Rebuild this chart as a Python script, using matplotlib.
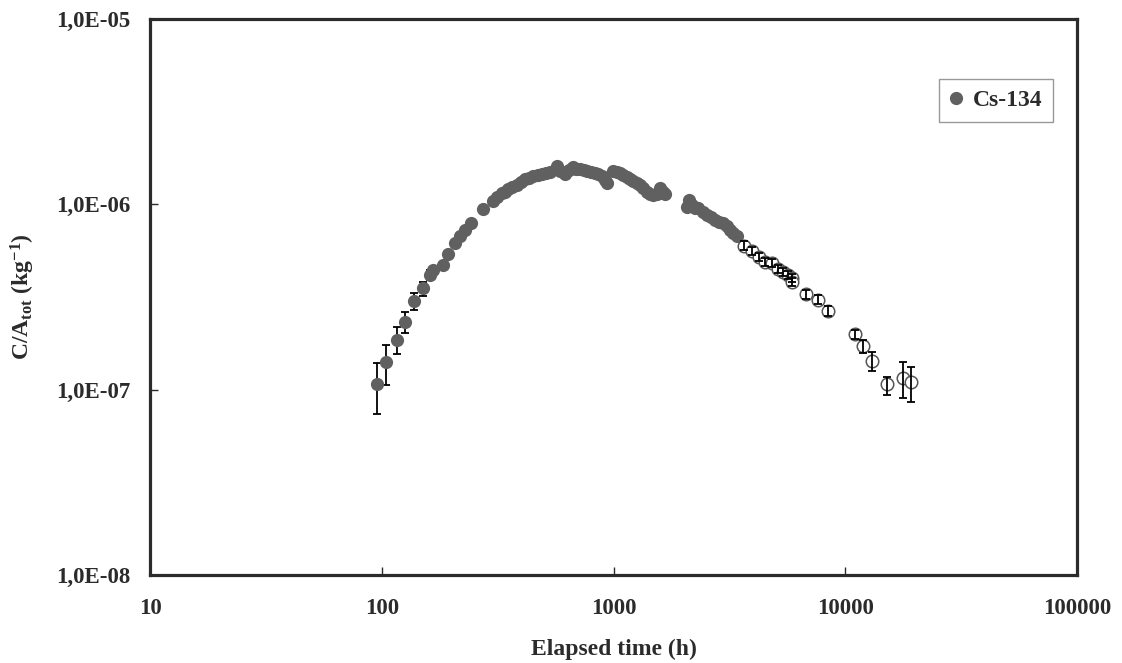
import numpy as np
import matplotlib
matplotlib.use("Agg")
import matplotlib.pyplot as plt
from matplotlib.ticker import FixedLocator, FuncFormatter, NullLocator

plt.rcParams['font.family'] = ['Liberation Serif', 'DejaVu Serif']
plt.rcParams['font.weight'] = 'bold'
plt.rcParams['mathtext.fontset'] = 'custom'
plt.rcParams['mathtext.rm'] = 'Liberation Serif:bold'
plt.rcParams['mathtext.bf'] = 'Liberation Serif:bold'
plt.rcParams['mathtext.it'] = 'Liberation Serif:bold'

# filled points (measured), first ones with error bars
t_fill = [95.7, 104, 116, 126, 138, 150, 162, 167, 183, 194, 206, 218, 229, 243, 274, 301,
          315, 330, 340, 352, 366, 382, 398, 415, 432, 451, 470, 490, 510, 532, 568, 590,
          617, 640, 666, 690, 716, 743, 770, 800, 832, 860, 888, 915, 939, 997, 1030, 1065,
          1100, 1138, 1175, 1216, 1258, 1300, 1345, 1390, 1440, 1486, 1540, 1588, 1630, 1668,
          2065, 2109, 2180, 2250, 2321, 2420, 2525, 2630, 2742, 2860, 2980, 3080, 3185, 3290, 3400]
c_fill = [1.07e-7, 1.40e-7, 1.86e-7, 2.32e-7, 2.99e-7, 3.53e-7, 4.15e-7, 4.40e-7, 4.70e-7, 5.37e-7,
          6.21e-7, 6.75e-7, 7.26e-7, 7.96e-7, 9.40e-7, 1.045e-6,
          1.09e-6, 1.146e-6, 1.17e-6, 1.205e-6, 1.24e-6, 1.27e-6, 1.32e-6, 1.364e-6, 1.39e-6, 1.42e-6,
          1.44e-6, 1.46e-6, 1.48e-6, 1.50e-6, 1.60e-6, 1.52e-6, 1.46e-6, 1.53e-6, 1.58e-6, 1.56e-6,
          1.55e-6, 1.53e-6, 1.52e-6, 1.50e-6, 1.48e-6, 1.45e-6, 1.42e-6, 1.36e-6, 1.30e-6, 1.52e-6,
          1.50e-6, 1.48e-6, 1.44e-6, 1.41e-6, 1.37e-6, 1.34e-6, 1.30e-6, 1.27e-6, 1.22e-6, 1.17e-6,
          1.13e-6, 1.12e-6, 1.13e-6, 1.22e-6, 1.16e-6, 1.14e-6,
          9.7e-7, 1.054e-6, 9.9e-7, 9.6e-7, 9.5e-7, 9.1e-7, 8.75e-7, 8.5e-7, 8.22e-7, 8.05e-7,
          7.89e-7, 7.6e-7, 7.26e-7, 7.0e-7, 6.74e-7]
t_fill_err = [95.7, 104, 116, 126, 138, 150, 162]
c_fill_err = [1.07e-7, 1.40e-7, 1.86e-7, 2.32e-7, 2.99e-7, 3.53e-7, 4.15e-7]
lo_fill_err = [7.4e-8, 1.06e-7, 1.56e-7, 2.03e-7, 2.70e-7, 3.20e-7, 3.90e-7]
hi_fill_err = [1.39e-7, 1.75e-7, 2.17e-7, 2.62e-7, 3.31e-7, 3.82e-7, 4.40e-7]

# open points with error bars
t_open = [3670, 3950, 4240, 4500, 4810, 5100, 5400, 5670, 5870, 5900, 6760, 7590, 8440,
          11000, 11970, 13000, 15100, 17700, 19200]
c_open = [5.98e-7, 5.62e-7, 5.22e-7, 4.90e-7, 4.80e-7, 4.48e-7, 4.33e-7, 4.15e-7, 3.99e-7, 3.82e-7,
          3.26e-7, 3.05e-7, 2.66e-7, 1.99e-7, 1.72e-7, 1.43e-7, 1.07e-7, 1.15e-7, 1.10e-7]
lo_open = [5.7e-7, 5.35e-7, 4.97e-7, 4.67e-7, 4.57e-7, 4.27e-7, 4.12e-7, 3.95e-7, 3.8e-7, 3.64e-7,
           3.08e-7, 2.88e-7, 2.5e-7, 1.88e-7, 1.57e-7, 1.26e-7, 9.35e-8, 8.97e-8, 8.6e-8]
hi_open = [6.3e-7, 5.9e-7, 5.48e-7, 5.14e-7, 5.04e-7, 4.7e-7, 4.55e-7, 4.36e-7, 4.19e-7, 4.0e-7,
           3.44e-7, 3.22e-7, 2.82e-7, 2.1e-7, 1.85e-7, 1.59e-7, 1.175e-7, 1.40e-7, 1.33e-7]

x_ticks = [10, 100, 1000, 10000, 100000]
y_ticks = [1e-8, 1e-7, 1e-6, 1e-5]
y_labels = ["1,0E-08", "1,0E-07", "1,0E-06", "1,0E-05"]

gray = "#606060"
dark = "#2b2b2b"

fig = plt.figure(figsize=(11.22, 6.63), dpi=100)
ax = fig.add_axes([0.1337, 0.133, 0.8263, 0.8383])

# error bars first, markers on top
e = np.array(c_fill_err)
ax.errorbar(t_fill_err, c_fill_err,
            yerr=[e - np.array(lo_fill_err), np.array(hi_fill_err) - e],
            fmt='none', ecolor='black', elinewidth=1.3, capsize=3, capthick=1.3, zorder=2)
ax.plot(t_fill, c_fill, 'o', color=gray, markersize=9.5, markeredgewidth=0,
        label="Cs-134", zorder=3)

o = np.array(c_open)
ax.plot(t_open, c_open, 'o', markerfacecolor='white', markeredgecolor="#555555",
        markersize=9, markeredgewidth=1.1, zorder=3)
ax.errorbar(t_open, c_open, yerr=[o - np.array(lo_open), np.array(hi_open) - o],
            fmt='none', ecolor='black', elinewidth=1.3, capsize=3, capthick=1.3, zorder=4)

ax.set_xscale('log')
ax.set_yscale('log')
ax.set_xlim(10, 100000)
ax.set_ylim(1e-8, 1e-5)

ax.xaxis.set_major_locator(FixedLocator(x_ticks))
ax.xaxis.set_major_formatter(FuncFormatter(lambda v, p: f"{v:.0f}"))
ax.xaxis.set_minor_locator(NullLocator())
ax.set_yticks(y_ticks)
ax.set_yticklabels(y_labels)
ax.yaxis.set_minor_locator(NullLocator())

ax.tick_params(axis='both', direction='in', length=6, width=1, color=dark,
               labelsize=16.5, labelcolor=dark)
ax.tick_params(axis='x', pad=17)
ax.tick_params(axis='y', pad=14)
for s in ax.spines.values():
    s.set_linewidth(2.3)
    s.set_color(dark)

ax.set_xlabel("Elapsed time (h)", fontsize=17, fontweight='bold', color=dark, labelpad=14)
ax.set_ylabel(r"C/A$_{\mathbf{tot}}$ (kg$^{\mathbf{-1}}$)", fontsize=17, fontweight='bold',
              color=dark, labelpad=14)

leg = ax.legend(loc='upper right', bbox_to_anchor=(0.974, 0.892), frameon=True, fancybox=False,
                edgecolor="#808080", fontsize=17, handlelength=0.6, handletextpad=0.4,
                borderpad=0.45, borderaxespad=0, markerscale=1.0)
leg.get_frame().set_linewidth(1.0)
for txt in leg.get_texts():
    txt.set_color(dark)

fig.savefig("out.png", dpi=100)
